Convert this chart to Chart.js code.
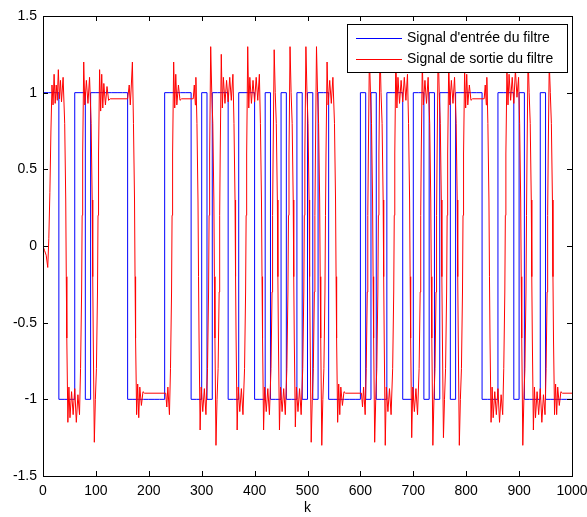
<!DOCTYPE html>
<html>
<head>
<meta charset="utf-8">
<script src="https://cdn.jsdelivr.net/npm/chart.js@4.4.1/dist/chart.umd.min.js"></script>
<style>
    html, body { margin: 0; padding: 0; background: #ffffff; }
    #wrap { width: 587px; height: 517px; }
</style>
</head>
<body>
<div id="wrap"><canvas id="filterChart" width="587" height="517"></canvas></div>
<script>
// input: one value per bit, each bit lasts 10 samples
const bitLength = 10;
const inputBits = [
    1, 1, 1, -1, -1, -1, 1, 1, -1, 1,
    1, 1, 1, 1, 1, 1, -1, -1, -1, -1,
    -1, -1, -1, 1, 1, 1, 1, 1, -1, -1,
    1, -1, 1, 1, 1, -1, -1, 1, 1, 1,
    -1, -1, 1, -1, -1, 1, -1, -1, 1, -1,
    1, -1, 1, 1, -1, -1, -1, -1, -1, -1,
    1, -1, 1, -1, -1, 1, 1, 1, -1, -1,
    1, 1, -1, 1, -1, 1, 1, -1, 1, 1,
    1, 1, 1, -1, -1, -1, 1, 1, 1, -1,
    1, -1, -1, -1, 1, -1, -1, -1, -1, -1,
];

// output of the filter, [k, value]
const outputPoints = [
    [0, 0], [3, -0.03], [6, -0.06], [9, -0.14], [11, 0.05], [13, 0.35], [15, 0.75], [17, 1.05],
    [19, 0.92], [21, 1.12], [23, 0.93], [25, 1.05], [27, 0.95], [29, 1.15], [31, 0.96], [33, 1.08],
    [35, 0.94], [38, 1.1],
    [41, 0.8], [43, 0.3], [44, -0.2], [45, -0.6], [47, -1.15], [49, -0.92], [51, -1.12], [54, -0.95], [57, -1.1], [60, -0.93],
    [63, -1.15], [66, -0.97], [69, -1.1],
    [71, -0.8], [73, -0.3], [74, 0.2], [75, 0.6], [77, 1.2], [79, 0.92], [82, 1.08], [85, 0.93], [88, 1.1],
    [91, 0.8], [93, 0.3], [94, -0.2], [95, -0.6], [97, -1.28], [99, -1.0],
    [101, -0.8], [103, -0.3], [104, 0.2], [105, 0.6], [107, 1.15], [109, 0.88], [111, 1.12], [113, 0.9], [115, 1.06], [118, 0.92],
    [121, 1.04], [124, 0.95], [127, 0.96], [160, 0.96], [163, 1.05], [165, 0.92], [167, 1.05], [169, 1.2],
    [171, 0.8], [173, 0.3], [174, -0.2], [175, -0.6], [177, -1.1], [179, -0.9], [181, -1.12], [183, -0.92], [186, -1.04], [189, -0.95],
    [192, -0.96], [232, -0.96], [234, -1.05], [236, -0.92], [239, -1.1],
    [241, -0.8], [243, -0.3], [244, 0.2], [245, 0.6], [247, 1.2], [249, 0.9], [251, 1.12], [253, 0.92], [256, 1.05], [259, 0.95],
    [262, 0.96], [284, 0.96], [286, 1.05], [288, 0.92], [289, 1.1],
    [291, 0.8], [293, 0.3], [294, -0.2], [295, -0.6], [297, -1.2], [299, -0.92], [302, -1.08], [305, -0.93], [308, -1.1],
    [311, -0.8], [313, -0.3], [314, 0.2], [315, 0.6], [317, 1.3], [319, 1.0],
    [321, 0.8], [323, 0.3], [324, -0.2], [325, -0.6], [327, -1.3], [329, -1.0],
    [331, -0.8], [333, -0.3], [334, 0.2], [335, 0.6], [337, 1.25], [339, 0.9], [341, 1.1], [344, 0.93], [347, 1.08], [350, 0.94],
    [353, 1.1], [356, 0.95], [359, 1.12],
    [361, 0.8], [363, 0.3], [364, -0.2], [365, -0.6], [367, -1.2], [369, -0.92], [372, -1.08], [375, -0.93], [378, -1.1],
    [381, -0.8], [383, -0.3], [384, 0.2], [385, 0.6], [387, 1.3], [389, 0.9], [391, 1.1], [394, 0.93], [397, 1.08], [400, 0.94],
    [403, 1.1], [406, 0.95], [409, 1.12],
    [411, 0.8], [413, 0.3], [414, -0.2], [415, -0.6], [417, -1.2], [419, -0.92], [422, -1.08], [425, -0.93], [428, -1.1],
    [431, -0.8], [433, -0.3], [434, 0.2], [435, 0.6], [437, 1.28], [439, 1.0],
    [441, 0.8], [443, 0.3], [444, -0.2], [445, -0.6], [447, -1.2], [449, -0.92], [452, -1.08], [455, -0.93], [458, -1.1],
    [461, -0.8], [463, -0.3], [464, 0.2], [465, 0.6], [467, 1.3], [469, 1.0],
    [471, 0.8], [473, 0.3], [474, -0.2], [475, -0.6], [477, -1.18], [479, -0.92], [482, -1.08], [485, -0.93], [488, -1.1],
    [491, -0.8], [493, -0.3], [494, 0.2], [495, 0.6], [497, 1.3], [499, 1.0],
    [501, 0.8], [503, 0.3], [504, -0.2], [505, -0.6], [507, -1.28], [509, -1.0],
    [511, -0.8], [513, -0.3], [514, 0.2], [515, 0.6], [517, 1.3], [519, 1.0],
    [521, 0.8], [523, 0.3], [524, -0.2], [525, -0.6], [527, -1.3], [529, -1.0],
    [531, -0.8], [533, -0.3], [534, 0.2], [535, 0.6], [537, 1.2], [539, 0.92], [542, 1.08], [545, 0.93], [548, 1.1],
    [551, 0.8], [553, 0.3], [554, -0.2], [555, -0.6], [557, -1.15], [559, -0.9], [561, -1.1], [563, -0.92], [566, -1.04], [569, -0.95],
    [572, -0.96], [602, -0.96], [604, -1.05], [606, -0.92], [609, -1.1],
    [611, -0.8], [613, -0.3], [614, 0.2], [615, 0.6], [617, 1.25], [619, 1.0],
    [621, 0.8], [623, 0.3], [624, -0.2], [625, -0.6], [627, -1.28], [629, -1.0],
    [631, -0.8], [633, -0.3], [634, 0.2], [635, 0.6], [637, 1.3], [639, 1.0],
    [641, 0.8], [643, 0.3], [644, -0.2], [645, -0.6], [647, -1.3], [649, -0.92], [652, -1.08], [655, -0.93], [658, -1.1],
    [661, -0.8], [663, -0.3], [664, 0.2], [665, 0.6], [667, 1.25], [669, 0.9], [671, 1.1], [674, 0.93], [677, 1.08], [680, 0.94],
    [683, 1.1], [686, 0.95], [689, 1.12],
    [691, 0.8], [693, 0.3], [694, -0.2], [695, -0.6], [697, -1.25], [699, -0.92], [702, -1.08], [705, -0.93], [708, -1.1],
    [711, -0.8], [713, -0.3], [714, 0.2], [715, 0.6], [717, 1.2], [719, 0.92], [722, 1.08], [725, 0.93], [728, 1.1],
    [731, 0.8], [733, 0.3], [734, -0.2], [735, -0.6], [737, -1.3], [739, -1.0],
    [741, -0.8], [743, -0.3], [744, 0.2], [745, 0.6], [747, 1.3], [749, 1.0],
    [751, 0.8], [753, 0.3], [754, -0.2], [755, -0.6], [757, -1.25], [759, -1.0],
    [761, -0.8], [763, -0.3], [764, 0.2], [765, 0.6], [767, 1.2], [769, 0.92], [772, 1.08], [775, 0.93], [778, 1.1],
    [781, 0.8], [783, 0.3], [784, -0.2], [785, -0.6], [787, -1.3], [789, -1.0],
    [791, -0.8], [793, -0.3], [794, 0.2], [795, 0.6], [797, 1.15], [799, 0.9], [801, 1.12], [803, 0.92], [806, 1.05], [809, 0.95],
    [812, 0.96], [834, 0.96], [836, 1.05], [838, 0.92], [839, 1.1],
    [841, 0.8], [843, 0.3], [844, -0.2], [845, -0.6], [847, -1.15], [849, -0.92], [851, -1.12], [854, -0.95], [857, -1.1], [860, -0.93],
    [863, -1.15], [866, -0.97], [869, -1.1],
    [871, -0.8], [873, -0.3], [874, 0.2], [875, 0.6], [877, 1.15], [879, 0.92], [881, 1.12], [884, 0.95], [887, 1.1], [890, 0.93],
    [893, 1.15], [896, 0.97], [899, 1.1],
    [901, 0.8], [903, 0.3], [904, -0.2], [905, -0.6], [907, -1.3], [909, -1.0],
    [911, -0.8], [913, -0.3], [914, 0.2], [915, 0.6], [917, 1.25], [919, 1.0],
    [921, 0.8], [923, 0.3], [924, -0.2], [925, -0.6], [927, -1.2], [929, -0.92], [931, -1.12], [934, -0.95], [937, -1.1], [940, -0.93],
    [943, -1.15], [946, -0.97], [949, -1.1],
    [951, -0.8], [953, -0.3], [954, 0.2], [955, 0.6], [957, 1.2], [959, 1.0],
    [961, 0.8], [963, 0.3], [964, -0.2], [965, -0.6], [967, -1.1], [969, -0.9], [971, -1.1], [973, -0.92], [976, -1.04], [979, -0.95],
    [982, -0.96], [1000, -0.96],
];

const xTicks = [0, 100, 200, 300, 400, 500, 600, 700, 800, 900, 1000];
const yTicks = [-1.5, -1, -0.5, 0, 0.5, 1, 1.5];
const seriesLabels = ["Signal d'entrée du filtre", 'Signal de sortie du filtre'];
const seriesColors = ['#0000ff', '#ff0000'];

const FONT = 'Liberation Sans, Arial, Helvetica, sans-serif';
const FONT_SIZE = 14;

const inputPoints = inputBits.map((v, i) => ({ x: i * bitLength, y: v }));
inputPoints.push({ x: inputBits.length * bitLength, y: inputBits[inputBits.length - 1] });

// box with inward ticks on all four sides, like the matlab axes
const axesBox = {
    id: 'axesBox',
    afterDatasetsDraw(chart) {
        const { ctx, chartArea: a, scales } = chart;
        const len = 5;
        ctx.save();
        ctx.strokeStyle = '#000000';
        ctx.lineWidth = 1;
        ctx.beginPath();
        xTicks.forEach(v => {
            const px = Math.round(scales.x.getPixelForValue(v)) + 0.5;
            ctx.moveTo(px, a.bottom);
            ctx.lineTo(px, a.bottom - len);
            ctx.moveTo(px, a.top);
            ctx.lineTo(px, a.top + len);
        });
        yTicks.forEach(v => {
            const py = Math.round(scales.y.getPixelForValue(v)) + 0.5;
            ctx.moveTo(a.left, py);
            ctx.lineTo(a.left + len, py);
            ctx.moveTo(a.right, py);
            ctx.lineTo(a.right - len, py);
        });
        ctx.stroke();
        ctx.strokeRect(Math.round(a.left) + 0.5, Math.round(a.top) + 0.5,
            Math.round(a.right - a.left), Math.round(a.bottom - a.top));
        ctx.restore();
    },
};

const boxLegend = {
    id: 'boxLegend',
    afterDraw(chart) {
        const { ctx } = chart;
        const left = 347, top = 24, width = 220, height = 48;
        ctx.save();
        ctx.fillStyle = '#ffffff';
        ctx.fillRect(left, top, width, height);
        ctx.strokeStyle = '#000000';
        ctx.lineWidth = 1;
        ctx.strokeRect(left + 0.5, top + 0.5, width, height);
        ctx.font = FONT_SIZE + 'px ' + FONT;
        ctx.textBaseline = 'middle';
        seriesLabels.forEach((label, i) => {
            const y = top + 14 + i * 21;
            ctx.strokeStyle = seriesColors[i];
            ctx.beginPath();
            ctx.moveTo(356, y + 0.5);
            ctx.lineTo(402, y + 0.5);
            ctx.stroke();
            ctx.fillStyle = '#000000';
            ctx.fillText(label, 407, y);
        });
        ctx.restore();
    },
};

new Chart(document.getElementById('filterChart'), {
    type: 'line',
    data: {
        datasets: [
            {
                label: seriesLabels[0],
                data: inputPoints,
                borderColor: seriesColors[0],
                borderWidth: 1,
                pointRadius: 0,
                stepped: true,
                order: 2,
            },
            {
                label: seriesLabels[1],
                data: outputPoints.map(p => ({ x: p[0], y: p[1] })),
                borderColor: seriesColors[1],
                borderWidth: 1,
                pointRadius: 0,
                tension: 0,
                order: 1,
            },
        ],
    },
    options: {
        responsive: false,
        devicePixelRatio: 1,
        animation: false,
        layout: { padding: { left: 0, right: 15, top: 16, bottom: 0 } },
        plugins: {
            legend: { display: false },
            tooltip: { enabled: false },
        },
        scales: {
            x: {
                type: 'linear',
                min: 0,
                max: 1000,
                grid: { display: false, drawTicks: false },
                border: { display: false },
                afterBuildTicks: scale => { scale.ticks = xTicks.map(v => ({ value: v })); },
                afterFit: scale => {
                    scale.height = 41;
                    scale.paddingLeft = 0;
                    scale.paddingRight = 0;
                },
                ticks: {
                    color: '#000000',
                    padding: 7,
                    maxRotation: 0,
                    autoSkip: false,
                    callback: v => String(v),
                    font: { family: FONT, size: FONT_SIZE },
                },
                title: {
                    display: true,
                    text: 'k',
                    color: '#000000',
                    padding: { top: 0, bottom: 0 },
                    font: { family: FONT, size: FONT_SIZE },
                },
            },
            y: {
                min: -1.5,
                max: 1.5,
                grid: { display: false, drawTicks: false },
                border: { display: false },
                afterBuildTicks: scale => { scale.ticks = yTicks.map(v => ({ value: v })); },
                afterFit: scale => {
                    scale.width = 43;
                    scale.paddingTop = 0;
                    scale.paddingBottom = 0;
                },
                ticks: {
                    color: '#000000',
                    padding: 6,
                    autoSkip: false,
                    callback: v => String(v),
                    font: { family: FONT, size: FONT_SIZE },
                },
            },
        },
    },
    plugins: [axesBox, boxLegend],
});
</script>
</body>
</html>
